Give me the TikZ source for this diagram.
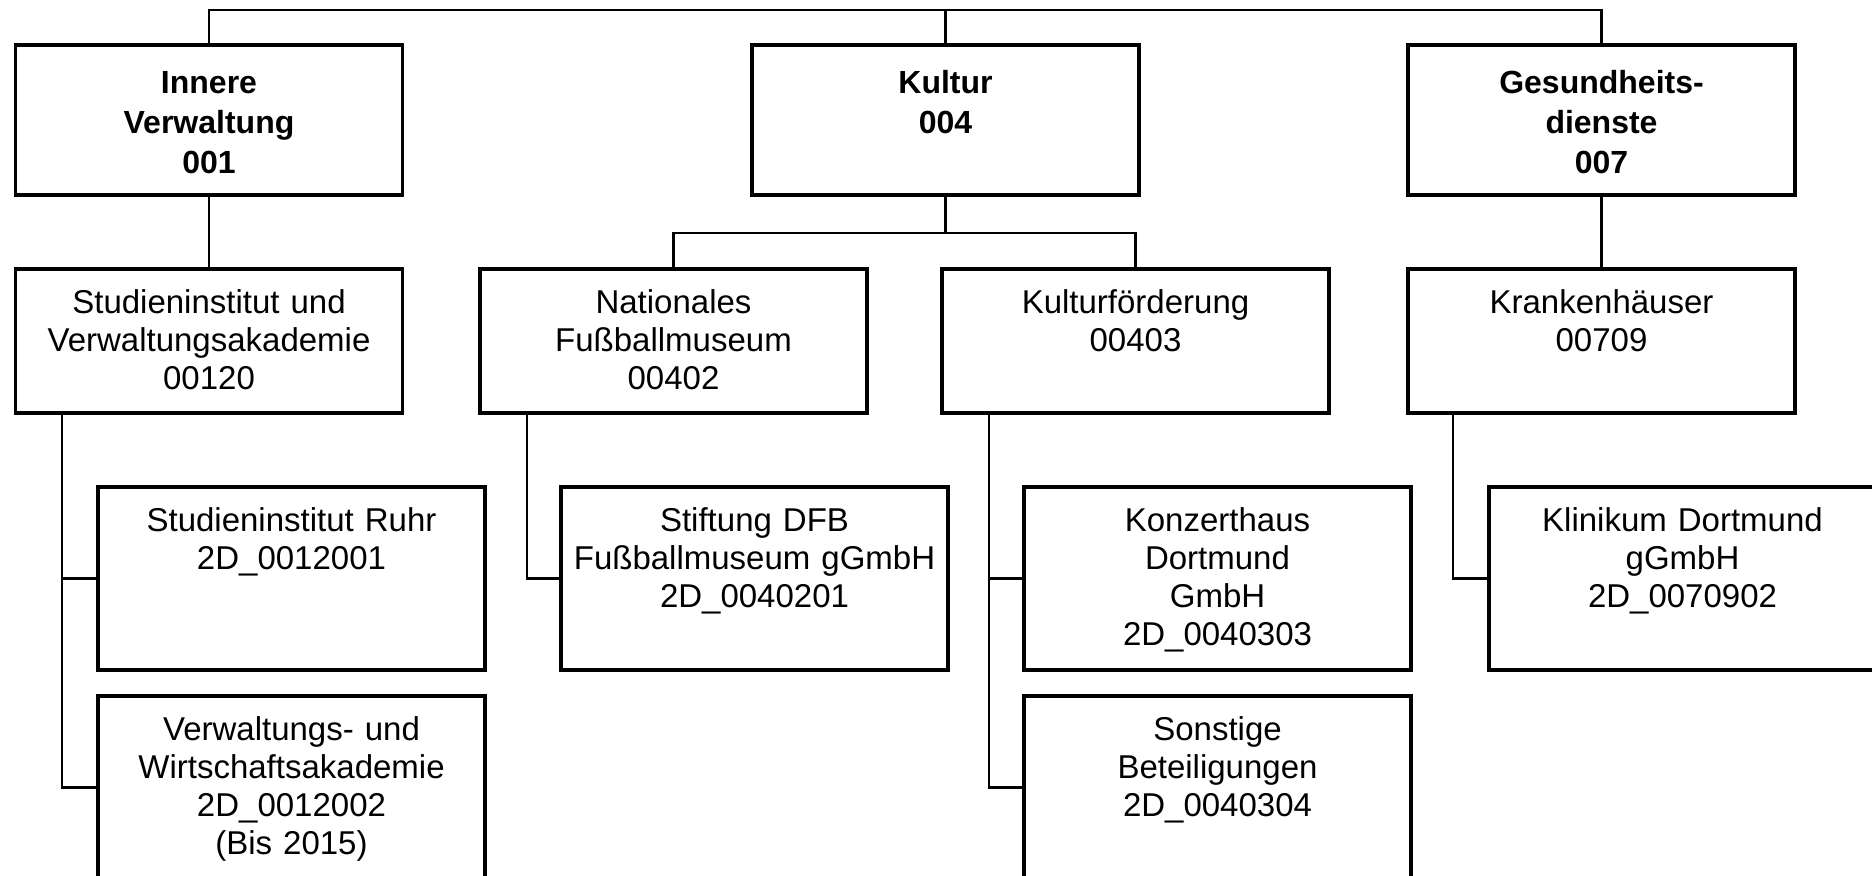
\documentclass[tikz,border=0pt]{standalone}
\usepackage{fontspec}
\setmainfont{Liberation Sans}

\begin{document}
\begin{tikzpicture}[
            x = 0.5pt, y = -0.5pt, % one unit = one pixel of the chart
            einheit/.style = {draw, line width=1.75pt, inner sep=0pt, outer sep=0pt,
                              anchor=north west, text width=193.5pt, align=center,
                              font=\fontsize{16.5}{19}\selectfont, text height=22pt},
            bereich/.style = {einheit, font=\bfseries\fontsize{16}{20}\selectfont,
                              text height=24pt, text depth=51pt},
            amt/.style = {einheit, text depth=50pt},
            beteiligung/.style = {einheit, text depth=69.5pt},
            link/.style = {line width=1.25pt} % connector lines
        ]
\useasboundingbox (0,0) rectangle (1872,875);
\clip (0,0) rectangle (1872,875);

% Bereiche
\node[bereich] (inner) at (15.5,45) {Innere\\Verwaltung\\001};
\node[bereich] (kultur) at (752,45) {Kultur\\004};
\node[bereich] (gesund) at (1408,45) {Gesundheits-\\dienste\\007};

% Produktgruppen
\node[amt] (sti) at (15.5,269) {Studieninstitut und\\Verwaltungsakademie\\00120};
\node[amt] (nat) at (480,269) {Nationales\\Fußballmuseum\\00402};
\node[amt] (kf) at (942,269) {Kulturförderung\\00403};
\node[amt] (kh) at (1408,269) {Krankenhäuser\\00709};

% Beteiligungen
\node[beteiligung] (ruhr) at (98,487) {Studieninstitut Ruhr\\2D\_0012001};
\node[beteiligung] (vwa) at (98,696) {Verwaltungs- und\\Wirtschaftsakademie\\2D\_0012002\\(Bis 2015)};
\node[beteiligung] (dfb) at (561,487) {Stiftung DFB\\Fußballmuseum gGmbH\\2D\_0040201};
\node[beteiligung] (kzh) at (1024,487) {Konzerthaus\\Dortmund\\GmbH\\2D\_0040303};
\node[beteiligung] (sonst) at (1024,696) {Sonstige\\Beteiligungen\\2D\_0040304};
\node[beteiligung] (klin) at (1489,487) {Klinikum Dortmund\\gGmbH\\2D\_0070902};

\coordinate (top) at (kultur.north |- 0,10);
\coordinate (kbranch) at (kultur.south |- 0,233);

\draw[link] (inner.north) |- (top) -| (gesund.north);
\draw[link] (kultur.north) -- (top);
\draw[link] (inner.south) -- (sti.north);
\draw[link] (kultur.south) -- (kbranch);
\draw[link] (nat.north) |- (kbranch) -| (kf.north);
\draw[link] (gesund.south) -- (kh.north);

\draw[link] ([xshift=23.25pt]sti.south west) |- (ruhr.west);
\draw[link] ([xshift=23.25pt]sti.south west) |- (vwa.west);
\draw[link] ([xshift=23.5pt]nat.south west) |- (dfb.west);
\draw[link] ([xshift=23.5pt]kf.south west) |- (kzh.west);
\draw[link] ([xshift=23.5pt]kf.south west) |- (sonst.west);
\draw[link] ([xshift=22.5pt]kh.south west) |- (klin.west);
\end{tikzpicture}
\end{document}
